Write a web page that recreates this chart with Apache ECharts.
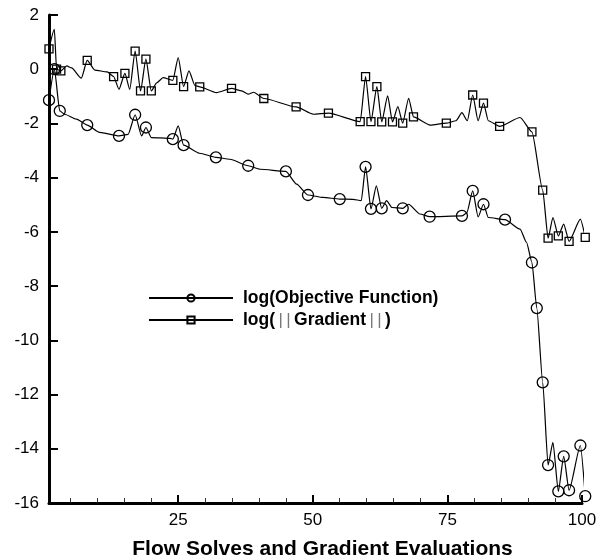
<!DOCTYPE html>
<html>
<head>
<meta charset="utf-8">
<script src="https://cdn.jsdelivr.net/npm/echarts@6/dist/echarts.min.js"></script>
<style>
  html, body { margin: 0; padding: 0; background: #fff; }
  #main { width: 607px; height: 559px; }
</style>
</head>
<body>
<div id="main"></div>
<script>
// evaluation number, log value, 1 = marked point
var objective = [
    [1, -1.14, 1], [2, 0.0, 1], [3, -1.54, 1], [3.9, -1.66, 0], [6.1, -1.84, 0],
    [8.1, -2.06, 1], [10.4, -2.33, 0], [14, -2.46, 1], [15.7, -2.4, 0], [17, -1.68, 1],
    [18.2, -2.46, 0], [19, -2.15, 1], [20, -2.52, 0], [23.5, -2.55, 0], [24, -2.58, 1],
    [25, -2.09, 0], [26, -2.8, 1], [29, -3.1, 0], [32, -3.25, 1], [34.6, -3.32, 0],
    [38, -3.56, 1], [40.2, -3.69, 0], [45, -3.77, 1], [47, -4.24, 0], [49.1, -4.64, 1],
    [51.9, -4.73, 0], [55, -4.79, 1], [57.5, -4.8, 0], [59, -4.85, 0], [59.8, -3.6, 1],
    [60.8, -5.15, 1], [61.8, -4.3, 0], [62.8, -5.13, 1], [63.7, -4.85, 0], [64.7, -5.1, 0],
    [66.7, -5.13, 1], [67.8, -4.98, 0], [69.9, -5.34, 0], [71.7, -5.44, 1], [77.7, -5.41, 1],
    [78.6, -5.3, 0], [79.7, -4.49, 1], [80.7, -5.45, 0], [81.7, -4.98, 1], [82.6, -5.47, 0],
    [85.7, -5.55, 1], [88.5, -5.9, 0], [89.7, -6.39, 0], [90.7, -7.13, 1], [91.6, -8.81, 1],
    [92.7, -11.55, 1], [93.7, -14.6, 1], [94.6, -13.76, 0], [95.6, -15.57, 1], [96.6, -14.28, 1],
    [97.6, -15.53, 1], [99.7, -13.88, 1], [100.6, -15.75, 1]
];

var gradient = [
    [1, 0.75, 1], [2, 1.47, 0], [2.4, 0.0, 1], [3.2, -0.06, 1], [4.3, 0.12, 0],
    [5.2, 0.05, 0], [7, -0.33, 0], [8.1, 0.33, 1], [9.5, -0.03, 0], [11.8, -0.1, 0],
    [13, -0.27, 1], [14, -0.74, 0], [15.1, -0.15, 1], [16, -0.74, 0], [17, 0.67, 1],
    [18, -0.8, 1], [19, 0.37, 1], [20, -0.8, 1], [21, -0.5, 0], [22.2, -0.31, 0],
    [24, -0.41, 1], [25, 0.43, 0], [26, -0.64, 1], [27, -0.06, 0], [28.1, -0.6, 0],
    [29, -0.65, 1], [32.1, -0.86, 0], [34.9, -0.71, 1], [36.8, -0.8, 0], [38, -0.92, 0],
    [39, -0.85, 0], [40.9, -1.08, 1], [46.9, -1.39, 1], [50.1, -1.66, 0], [52.9, -1.62, 1],
    [58.8, -1.93, 1], [59.8, -0.27, 1], [60.8, -1.93, 1], [61.9, -0.64, 1], [62.8, -1.94, 1],
    [63.9, -0.98, 0], [64.8, -1.94, 1], [65.8, -1.38, 0], [66.7, -1.99, 1], [67.8, -1.07, 0],
    [68.7, -1.76, 1], [71.8, -2.06, 0], [74.8, -1.99, 1], [76.6, -1.9, 0], [77.7, -1.6, 0],
    [78.7, -1.9, 0], [79.7, -0.95, 1], [80.7, -1.9, 0], [81.7, -1.25, 1], [82.6, -1.9, 0],
    [84.7, -2.11, 1], [88.5, -1.78, 0], [90.7, -2.31, 1], [92.7, -4.46, 1], [93.7, -6.23, 1],
    [94.6, -5.47, 0], [95.6, -6.15, 1], [96.6, -5.71, 0], [97.6, -6.35, 1], [99.7, -5.53, 0],
    [100.6, -6.2, 1]
];

var xMajorTicks = [25, 50, 75, 100];
var xMinorTicks = [5, 10, 15, 20, 30, 35, 40, 45, 55, 60, 65, 70, 80, 85, 90, 95];
var seriesNames = ['log(Objective Function)', 'log(||Gradient||)'];

var font = '"Liberation Sans", Arial, Helvetica, sans-serif';

function toData(list) {
    return list.map(function(p) {
        var item = { value: [p[0], p[1]] };
        if (!p[2]) item.symbol = 'none';
        return item;
    });
}

var myChart = echarts.init(document.getElementById('main'));

var option = {
    animation: false,
    grid: { left: 49, right: 25, top: 15, bottom: 56, outerBoundsMode: 'none', containLabel: false },
    legend: {
        orient: 'vertical',
        left: 143,
        top: 284,
        itemWidth: 84,
        itemHeight: 9,
        itemGap: 4,
        data: seriesNames,
        formatter: function(name) {
            if (name === seriesNames[1]) {
                // thin norm bars as in the original
                return 'log({b|\u2009|\u2009|\u2009}Gradient{b|\u2009|\u2009|\u2009})';
            }
            return name;
        },
        textStyle: {
            fontFamily: font,
            fontSize: 17.5,
            fontWeight: 'bold',
            color: '#000',
            lineHeight: 17,
            padding: [0, 0, 0, 5],
            rich: {
                b: { fontFamily: font, fontSize: 17, fontWeight: 'normal', color: '#777', lineHeight: 17 }
            }
        }
    },
    xAxis: [{
        type: 'value',
        min: 1,
        max: 100,
        name: 'Flow Solves and Gradient Evaluations',
        nameLocation: 'middle',
        nameGap: 36,
        nameTextStyle: { fontFamily: font, fontSize: 21, fontWeight: 'bold', color: '#000', padding: [0, 0, 0, 14] },
        splitLine: { show: false },
        axisLine: { onZero: false, lineStyle: { color: '#000', width: 3 } },
        axisTick: { inside: true, length: 8, customValues: xMajorTicks, lineStyle: { color: '#000', width: 2 } },
        axisLabel: { customValues: xMajorTicks, margin: 9, fontFamily: font, fontSize: 17, color: '#000' }
    }, {
        type: 'value',
        min: 1,
        max: 100,
        position: 'bottom',
        splitLine: { show: false },
        axisLine: { show: false, onZero: false },
        axisLabel: { show: false },
        axisTick: { inside: true, length: 5, customValues: xMinorTicks, lineStyle: { color: '#333', width: 1 } }
    }],
    yAxis: {
        type: 'value',
        min: -16,
        max: 2,
        interval: 2,
        splitLine: { show: false },
        axisLine: { onZero: false, lineStyle: { color: '#000', width: 3 } },
        axisTick: { inside: true, length: 9, lineStyle: { color: '#000', width: 2 } },
        axisLabel: { margin: 10, fontFamily: font, fontSize: 17, color: '#000' }
    },
    series: [{
        name: seriesNames[0],
        type: 'line',
        data: toData(objective),
        symbol: 'circle',
        symbolSize: 11,
        clip: false,
        smooth: 0.2,
        smoothMonotone: 'x',
        lineStyle: { color: '#000', width: 1.2 },
        itemStyle: { color: 'rgba(255,255,255,0)', borderColor: '#000', borderWidth: 1.3 }
    }, {
        name: seriesNames[1],
        type: 'line',
        data: toData(gradient),
        symbol: 'rect',
        symbolSize: 8,
        clip: false,
        smooth: 0.2,
        smoothMonotone: 'x',
        lineStyle: { color: '#000', width: 1.2 },
        itemStyle: { color: 'rgba(255,255,255,0)', borderColor: '#000', borderWidth: 1.3 }
    }]
};

myChart.setOption(option);
</script>
</body>
</html>
